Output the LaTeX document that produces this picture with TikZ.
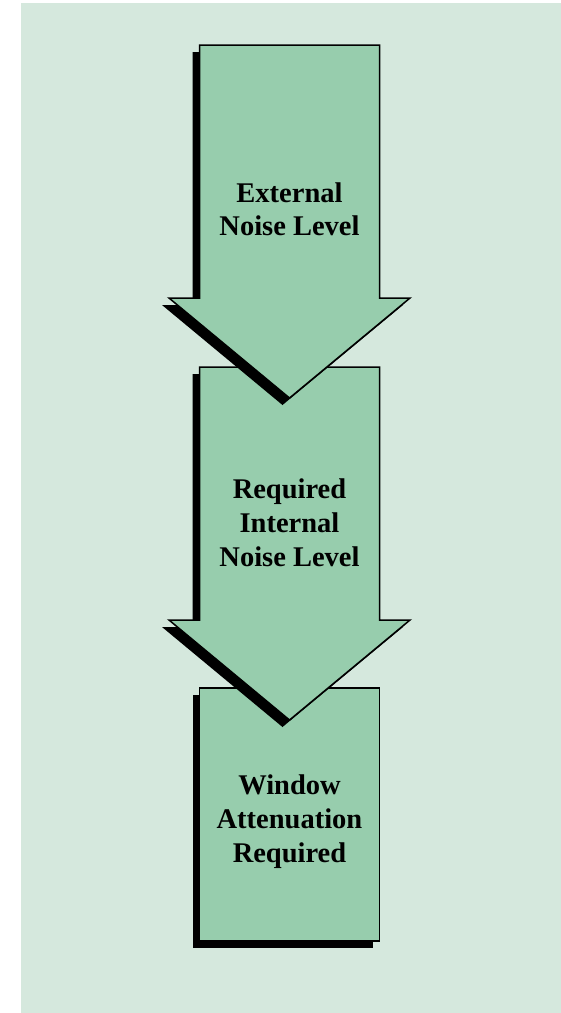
\documentclass[tikz,border=0pt]{standalone}
\usepackage{fontspec}
\setmainfont{Liberation Serif}
\definecolor{bgcol}{HTML}{D5E8DD}
\definecolor{fillcol}{HTML}{97CDAD}
\begin{document}
\begin{tikzpicture}[x=1pt,y=-1pt,
  shapebox/.style={draw=black,line width=1.5pt,fill=fillcol,line join=miter},
  shadowbox/.style={fill=black},
  lbl/.style={font=\fontsize{28.5}{34}\selectfont\bfseries,anchor=base,inner sep=0pt}]
\useasboundingbox (0,0) rectangle (561,1013);
\fill[bgcol] (21,3) rectangle (561,1013);
% box 3
\fill[shadowbox,xshift=-7pt,yshift=-7pt] (199.5,688) rectangle (379.5,941);
\draw[shapebox] (199.5,688) rectangle (379.5,941);
% arrow 2
\def\arrowpath#1#2#3{(199.5,#1) -- (379.5,#1) -- (379.5,#2) -- (410,#2) -- (289.5,#3) -- (169,#2) -- (199.5,#2) -- cycle}
\fill[shadowbox,xshift=-7pt,yshift=-7pt] \arrowpath{367}{620}{720};
\draw[shapebox] \arrowpath{367}{620}{720};
% arrow 1
\fill[shadowbox,xshift=-7pt,yshift=-7pt] \arrowpath{45}{298}{398};
\draw[shapebox] \arrowpath{45}{298}{398};
% labels
\node[lbl] (t1a) at (289.5,202) {External};
\node[lbl] (t1b) at (289.5,235.5) {Noise Level};
\node[lbl] (t2a) at (289.5,498.5) {Required};
\node[lbl] (t2b) at (289.5,532.5) {Internal};
\node[lbl] (t2c) at (289.5,566.5) {Noise Level};
\node[lbl] (t3a) at (289.5,794.5) {Window};
\node[lbl] (t3b) at (289.5,828.5) {Attenuation};
\node[lbl] (t3c) at (289.5,862.5) {Required};
\end{tikzpicture}
\end{document}
